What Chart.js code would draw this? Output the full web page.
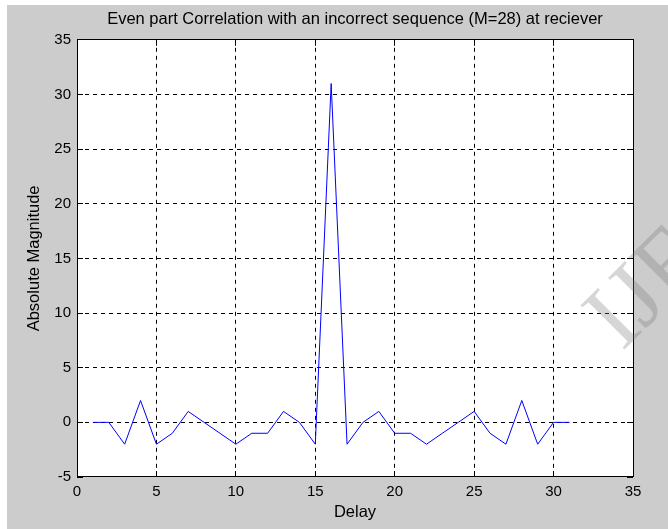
<!DOCTYPE html>
<html>
<head>
<meta charset="utf-8">
<script src="https://cdn.jsdelivr.net/npm/chart.js@4.4.1/dist/chart.umd.min.js"></script>
<style>
  html, body { margin: 0; padding: 0; background: #fff; }
  canvas { display: block; }
</style>
</head>
<body>
<canvas id="chart" width="668" height="529"></canvas>
<script>
// values
const delays = [1, 2, 3, 4, 5, 6, 7, 8, 9, 10, 11, 12, 13, 14, 15, 16,
                17, 18, 19, 20, 21, 22, 23, 24, 25, 26, 27, 28, 29, 30, 31];
const magnitude = [0, 0, -2, 2, -2, -1, 1, 0, -1, -2, -1, -1, 1, 0, -2, 31,
                   -2, 0, 1, -1, -1, -2, -1, 0, 1, -1, -2, 2, -2, 0, 0];
const xTicks = [0, 5, 10, 15, 20, 25, 30, 35];
const yTicks = [-5, 0, 5, 10, 15, 20, 25, 30, 35];

const titleText = 'Even part Correlation with an incorrect sequence (M=28) at reciever';
const xLabel = 'Delay';
const yLabel = 'Absolute Magnitude';

Chart.defaults.font.family = "'Liberation Sans', Arial, sans-serif";
Chart.defaults.font.size = 15;
Chart.defaults.color = '#000';

function align(px) {
  return Math.round(px - 0.5) + 0.5;
}

// no dashed line on top of the frame itself
function gridColor(ctx) {
  let s = ctx.scale;
  if (ctx.tick && (ctx.tick.value === s.min || ctx.tick.value === s.max)) {
    return 'rgba(0,0,0,0)';
  }
  return '#000';
}

// grey figure, white axes box, inward ticks and the frame, like a matlab figure
const matlabFrame = {
  id: 'matlabFrame',
  beforeDraw(chart) {
    let ctx = chart.ctx;
    let a = chart.chartArea;
    ctx.save();
    ctx.fillStyle = '#fff';
    ctx.fillRect(0, 0, chart.width, chart.height);
    ctx.fillStyle = '#cccccc';
    ctx.fillRect(7, 5, chart.width - 7, chart.height - 5);
    ctx.fillStyle = '#fff';
    ctx.fillRect(a.left, a.top, a.right - a.left, a.bottom - a.top);
    ctx.restore();
  },
  afterDraw(chart) {
    let ctx = chart.ctx;
    let a = chart.chartArea;
    let xs = chart.scales.x;
    let ys = chart.scales.y;
    let len = 6;
    ctx.save();
    ctx.strokeStyle = '#000';
    ctx.lineWidth = 1;
    ctx.beginPath();
    xTicks.forEach(function(v) {
      let px = align(xs.getPixelForValue(v));
      ctx.moveTo(px, a.bottom);
      ctx.lineTo(px, a.bottom - len);
      ctx.moveTo(px, a.top);
      ctx.lineTo(px, a.top + len);
    });
    yTicks.forEach(function(v) {
      let py = align(ys.getPixelForValue(v));
      ctx.moveTo(a.left, py);
      ctx.lineTo(a.left + len, py);
      ctx.moveTo(a.right, py);
      ctx.lineTo(a.right - len, py);
    });
    ctx.stroke();
    ctx.strokeRect(align(a.left), align(a.top), Math.round(a.right - a.left), Math.round(a.bottom - a.top));

    // watermark at the right edge
    ctx.translate(622, 352);
    ctx.rotate(-Math.PI / 4);
    ctx.font = "95px 'Liberation Serif', serif";
    ctx.fillStyle = 'rgba(120, 120, 120, 0.3)';
    ctx.fillText('IJERT', 0, 0);
    ctx.restore();
  }
};

new Chart(document.getElementById('chart'), {
  type: 'line',
  data: {
    labels: delays,
    datasets: [{
      data: magnitude,
      borderColor: '#0000ff',
      borderWidth: 1,
      pointRadius: 0,
      tension: 0,
      fill: false
    }]
  },
  options: {
    responsive: false,
    devicePixelRatio: 1,
    animation: false,
    layout: { padding: { left: 0, right: 35, top: 0, bottom: 0 } },
    plugins: {
      legend: { display: false },
      tooltip: { enabled: false },
      title: {
        display: true,
        text: titleText,
        fullSize: false,
        color: '#000',
        font: { size: 16.5, weight: 'normal' },
        padding: { top: 10, bottom: 10 }
      }
    },
    scales: {
      x: {
        type: 'linear',
        min: 0,
        max: 35,
        afterBuildTicks: function(scale) {
          scale.ticks = xTicks.map(v => ({ value: v }));
        },
        afterFit: function(scale) { scale.height = 52; },
        ticks: { autoSkip: false, maxRotation: 0, padding: 6, color: '#000' },
        grid: { color: gridColor, lineWidth: 1, drawTicks: false },
        border: { display: false, dash: [4, 4] },
        title: { display: true, text: xLabel, color: '#000', font: { size: 16.5 }, padding: { top: 0, bottom: 7 } }
      },
      y: {
        type: 'linear',
        min: -5,
        max: 35,
        afterBuildTicks: function(scale) {
          scale.ticks = yTicks.map(v => ({ value: v }));
        },
        afterFit: function(scale) { scale.width = 77; },
        ticks: { autoSkip: false, padding: 6, color: '#000' },
        grid: { color: gridColor, lineWidth: 1, drawTicks: false },
        border: { display: false, dash: [4, 4] },
        title: { display: true, text: yLabel, color: '#000', font: { size: 16.5 }, padding: { top: 25, bottom: 0 } }
      }
    }
  },
  plugins: [matlabFrame]
});
</script>
</body>
</html>
